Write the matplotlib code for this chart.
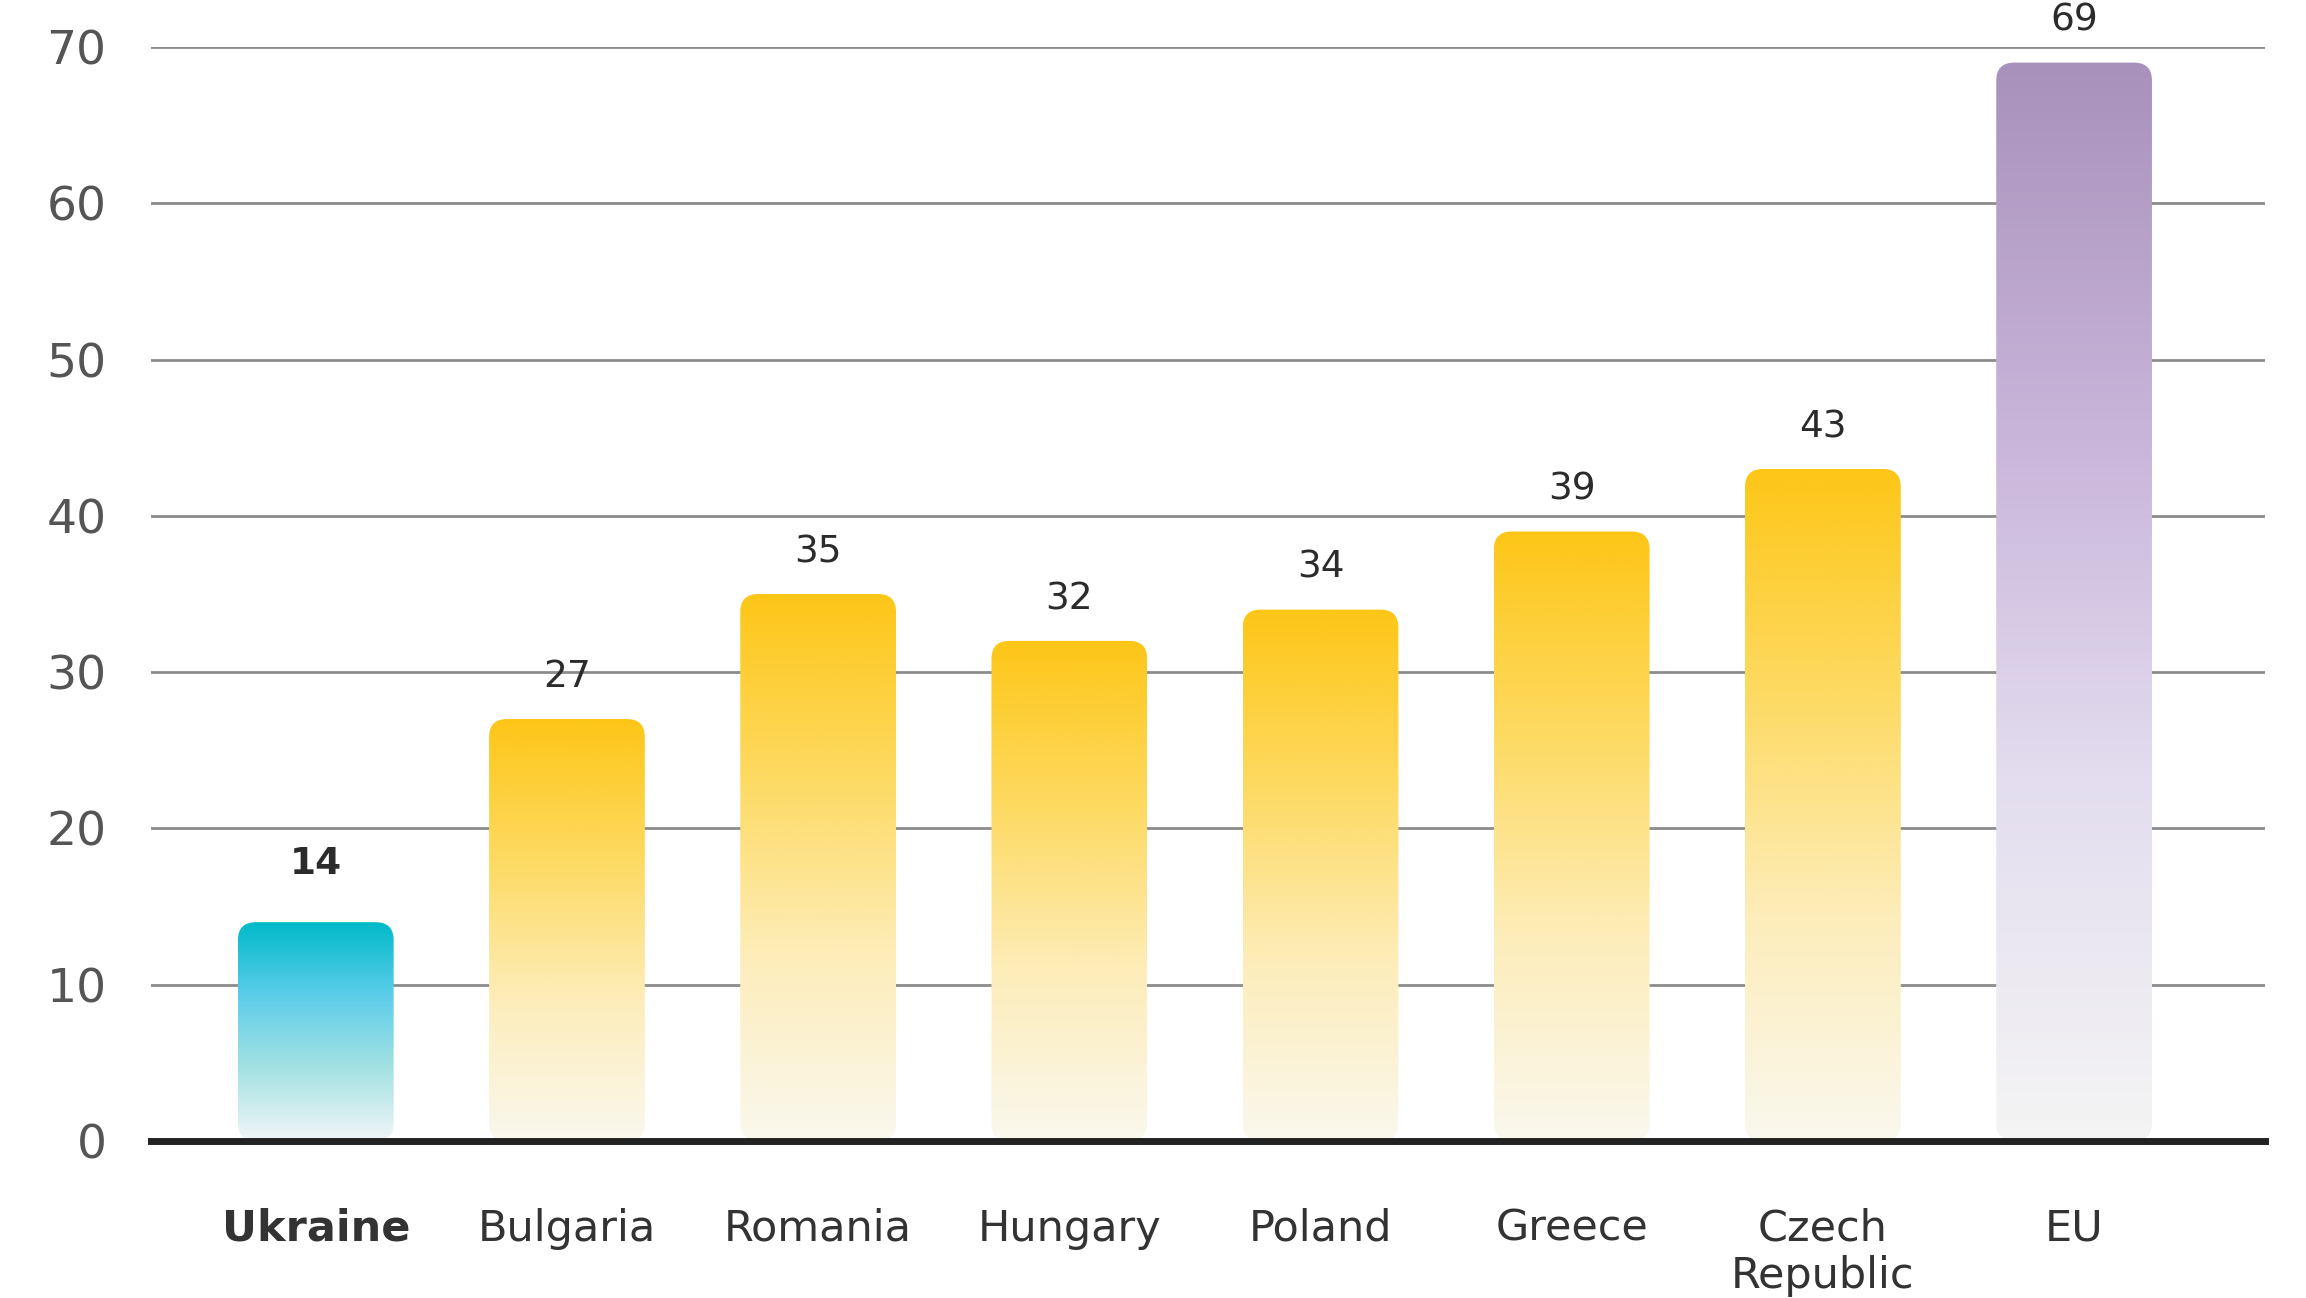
import numpy as np
import matplotlib.pyplot as plt
from matplotlib.colors import LinearSegmentedColormap
from matplotlib.patches import FancyBboxPatch

plt.rcParams['font.family'] = ['DejaVu Sans']

countries = ['Ukraine', 'Bulgaria', 'Romania', 'Hungary', 'Poland', 'Greece', 'Czech\nRepublic', 'EU']
values = [14, 27, 35, 32, 34, 39, 43, 69]
groups = ['ua', 'other', 'other', 'other', 'other', 'other', 'other', 'eu']
y_ticks = [0, 10, 20, 30, 40, 50, 60, 70]

# vertical fades, bottom -> top
cmaps = {
    'ua': LinearSegmentedColormap.from_list('ua', ['#F1F5F8', '#A4E2E2', '#5CCDEA', '#00BAC9']),
    'other': LinearSegmentedColormap.from_list('other', ['#FAF8EE', '#FDEDBA', '#FDDA62', '#FDC617']),
    'eu': LinearSegmentedColormap.from_list('eu', ['#F4F4F4', '#E3DDEF', '#C8B3D9', '#A892BC']),
}

W, H = 2306, 1298
fig = plt.figure(figsize=(W / 100, H / 100), dpi=100)
ax = fig.add_axes([151 / W, 1 - 1141 / H, (2265 - 151) / W, (1141 - 47) / H])

x = np.arange(len(countries))
bar_w = 0.62
ax.set_xlim(-0.656, 7.76)
ax.set_ylim(0, 70)

# pixel scale of each data unit, used to keep the top corners circular
p0 = ax.transData.transform((0, 0))
p1 = ax.transData.transform((1, 1))
px_x, px_y = p1 - p0
radius_px = 18
r_x = radius_px / px_x
aspect = (radius_px / px_y) / r_x

bars = ax.bar(x, values, width=bar_w, color='none', edgecolor='none')
grad = np.linspace(0, 1, 256).reshape(-1, 1)
for rect, g in zip(bars, groups):
    x0, w, h = rect.get_x(), rect.get_width(), rect.get_height()
    shape = FancyBboxPatch((x0, 0), w, h, boxstyle=f'round,pad=0,rounding_size={r_x}',
                           mutation_aspect=aspect, facecolor='none', edgecolor='none',
                           transform=ax.transData)
    ax.add_patch(shape)
    im = ax.imshow(grad, extent=(x0, x0 + w, 0, h), origin='lower', aspect='auto',
                   cmap=cmaps[g], zorder=3, interpolation='bilinear')
    im.set_clip_path(shape)

ax.set_xlim(-0.656, 7.76)
ax.set_ylim(0, 70)

for xi, v, g in zip(x, values, groups):
    bold = g == 'ua'
    ax.annotate(str(v), (xi, v), xytext=(0, 42 if bold else 30), textcoords='offset points',
                ha='center', va='center', fontsize=27, color='#2b2b2b',
                fontweight='bold' if bold else 'normal', annotation_clip=False)

ax.set_yticks(y_ticks)
ax.yaxis.grid(True, color='#8c8c8c', linewidth=2.0)
ax.set_axisbelow(True)
ax.axhline(0, color='#222222', linewidth=5, zorder=5, clip_on=False)

ax.set_xticks(x, countries)
ax.tick_params(axis='x', length=0, pad=48, labelsize=31, labelcolor='#333333')
ax.tick_params(axis='y', length=0, pad=32, labelsize=34, labelcolor='#555555')
ax.get_xticklabels()[0].set_fontweight('bold')
for lab in ax.get_xticklabels():
    lab.set_linespacing(1.15)

for s in ax.spines.values():
    s.set_visible(False)

fig.savefig('out.png', dpi=100, facecolor='white')
